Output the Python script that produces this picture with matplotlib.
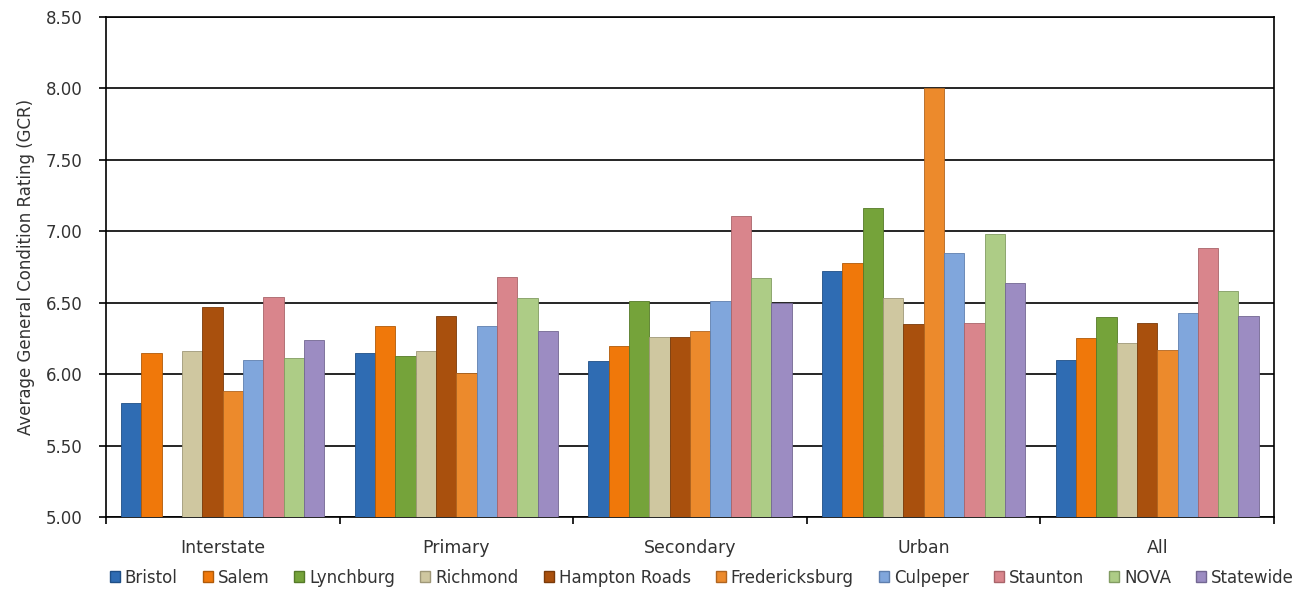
import numpy as np
import matplotlib
matplotlib.use('Agg')
import matplotlib.pyplot as plt
from matplotlib.patches import Patch

categories = ["Interstate", "Primary", "Secondary", "Urban", "All"]
districts = ["Bristol", "Salem", "Lynchburg", "Richmond", "Hampton Roads",
             "Fredericksburg", "Culpeper", "Staunton", "NOVA", "Statewide"]

bristol = [5.80, 6.15, 6.09, 6.72, 6.10]
salem = [6.15, 6.34, 6.20, 6.78, 6.25]
lynchburg = [np.nan, 6.13, 6.51, 7.16, 6.40]
richmond = [6.16, 6.16, 6.26, 6.53, 6.22]
hampton_roads = [6.47, 6.41, 6.26, 6.35, 6.36]
fredericksburg = [5.88, 6.01, 6.30, 8.00, 6.17]
culpeper = [6.10, 6.34, 6.51, 6.85, 6.43]
staunton = [6.54, 6.68, 7.11, 6.36, 6.88]
nova = [6.11, 6.53, 6.67, 6.98, 6.58]
statewide = [6.24, 6.30, 6.50, 6.64, 6.41]

series = [bristol, salem, lynchburg, richmond, hampton_roads,
          fredericksburg, culpeper, staunton, nova, statewide]
colors = ['#2F6CB3', '#F0780A', '#75A33A', '#CFC7A0', '#A9500D',
          '#EC8A2C', '#80A6DC', '#D9858C', '#ADCC86', '#9C8CC2']
edges = ['#1F4F86', '#B05A08', '#557A28', '#9F9878', '#7A3A09',
         '#B06520', '#5F7FAE', '#A9646A', '#829C62', '#736792']

plt.rcParams['font.family'] = ['DejaVu Sans']
fig = plt.figure(figsize=(13.02, 5.91), dpi=100)
ax = fig.add_axes([0.0814, 0.1252, 0.8971, 0.846])

x = np.arange(len(categories))
w = 0.087
n = len(series)
for i, (vals, c, ec) in enumerate(zip(series, colors, edges)):
    off = (i - (n - 1) / 2) * w
    ax.bar(x + off, np.array(vals) - 5.0, w, bottom=5.0, color=c,
           edgecolor=ec, linewidth=0.6, label=districts[i], zorder=3)

ax.set_ylim(5.0, 8.5)
ax.set_xlim(-0.5, len(categories) - 0.5)
ax.set_yticks(np.arange(5.0, 8.51, 0.5))
ax.set_yticklabels([f"{v:.2f}" for v in np.arange(5.0, 8.51, 0.5)], fontsize=12, color='#333333')
ax.yaxis.grid(True, color='black', linewidth=1.2, zorder=0)
ax.set_axisbelow(True)

ax.set_xticks(x)
ax.set_xticklabels(categories, fontsize=12.5, color='#333333')
ax.tick_params(axis='x', length=0, pad=16)
ax.set_xticks(np.arange(-0.5, len(categories)), minor=True)
ax.tick_params(axis='x', which='minor', length=5, width=1.2, color='black')
ax.tick_params(axis='y', length=5, width=1.2, color='black', pad=12)

for s in ax.spines.values():
    s.set_color('black')
    s.set_linewidth(1.2)

ax.set_ylabel("Average General Condition Rating (GCR)", fontsize=12, color='#333333', labelpad=8)

handles = [Patch(facecolor=c, edgecolor=ec, label=d) for c, ec, d in zip(colors, edges, districts)]
fig.legend(handles=handles, loc='lower center', bbox_to_anchor=(0.539, -0.018), ncol=10,
           frameon=False, fontsize=12, handlelength=0.6, handleheight=0.6,
           handletextpad=0.3, columnspacing=1.5, labelcolor='#333333')

fig.savefig("out.png", dpi=100)
